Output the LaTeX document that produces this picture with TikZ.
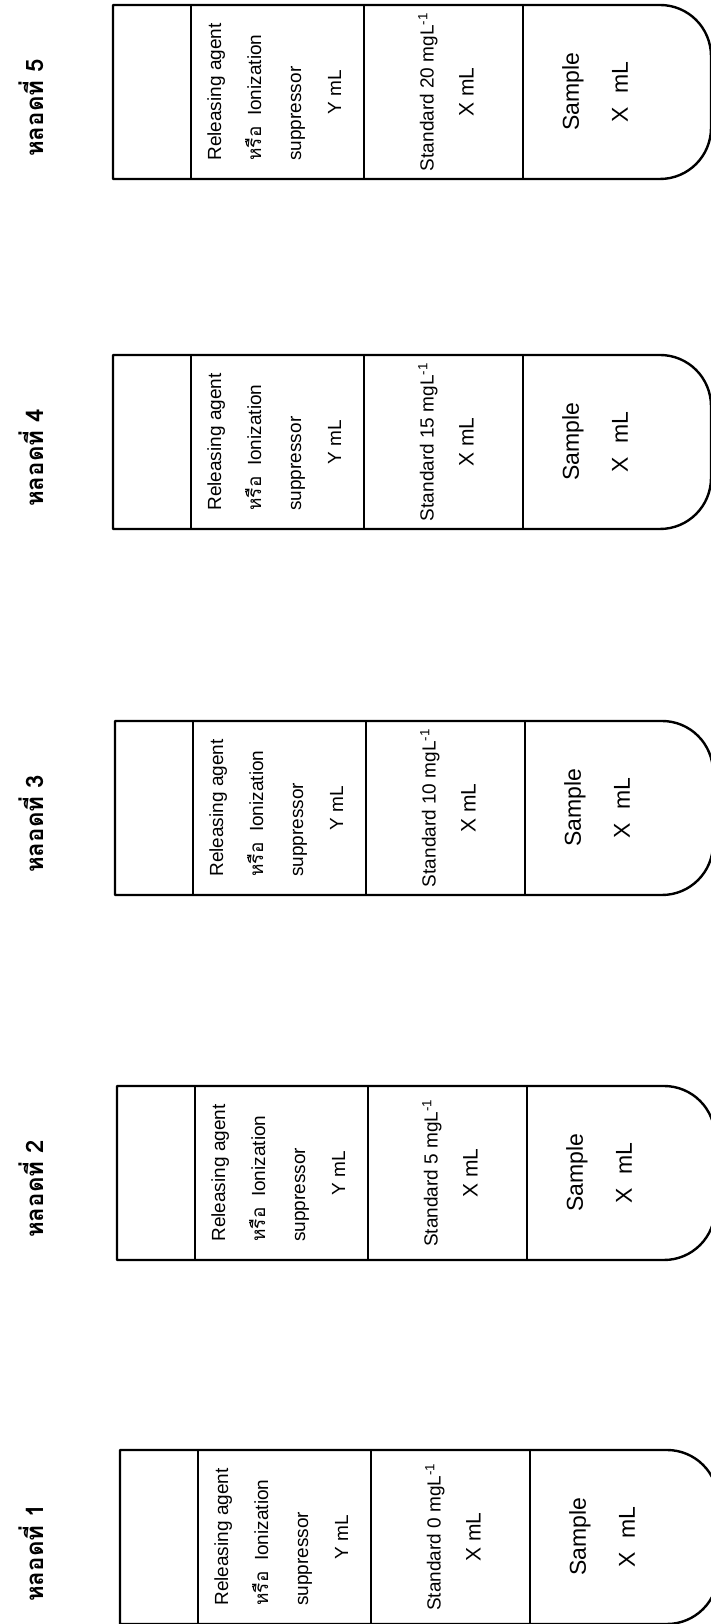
\documentclass[tikz,border=0pt]{standalone}
\usepackage{fontspec}
\setmainfont{Liberation Sans}
\newfontfamily\thaifont[Script=Thai]{Loma}
\usepackage{tikz}

\begin{document}
\begin{tikzpicture}[x=1pt, y=1pt, every node/.style={inner sep=0pt, font=\fontsize{19}{40}\selectfont},
    tubeline/.style={line width=2.4pt, line join=round},
    divline/.style={line width=1.8pt},
    txt/.style={rotate=90, align=center},
    tubetitle/.style={rotate=90, font=\thaifont\bfseries\fontsize{24}{28}\selectfont}]
  \useasboundingbox (0,0) rectangle (711,1624);
  % tube number / top edge / left edge
  \foreach \n/\t/\l in {5/5/113, 4/355/113, 3/721/115, 2/1086/117, 1/1450/120} {
    \pgfmathsetmacro\yt{1624-\t}
    \pgfmathsetmacro\yb{\yt-174}
    \pgfmathsetmacro\yc{\yt-87}
    \pgfmathtruncatemacro\conc{(\n-1)*5}
    \draw[tubeline] (\l,\yt) -- (\l+547,\yt) arc[start angle=90, end angle=0, radius=51]
      -- (\l+598,\yb+51) arc[start angle=0, end angle=-90, radius=51] -- (\l,\yb) -- cycle;
    \draw[divline] (\l+78,\yt) -- (\l+78,\yb);
    \draw[divline] (\l+251,\yt) -- (\l+251,\yb);
    \draw[divline] (\l+410,\yt) -- (\l+410,\yb);
    \node[tubetitle] (title\n) at (31,\yc-16) {หลอดที่ \n};
    \node[txt] (reag\n) at (\l+160,\yc) {\begin{tabular}{@{}l@{}}Releasing agent\\ {\thaifont หรือ}\ \ Ionization\\ suppressor\\ \multicolumn{1}{@{}c@{}}{Y mL}\end{tabular}};
    \node[txt] (std\n) at (\l+333,\yc) {Standard \conc{} mgL\textsuperscript{-1}\\ {\fontsize{21}{40}\selectfont X mL}};
    \node[txt, font=\fontsize{23}{49}\selectfont] (smp\n) at (\l+482,\yc) {Sample\\ X\ \ mL};
  }
\end{tikzpicture}
\end{document}
